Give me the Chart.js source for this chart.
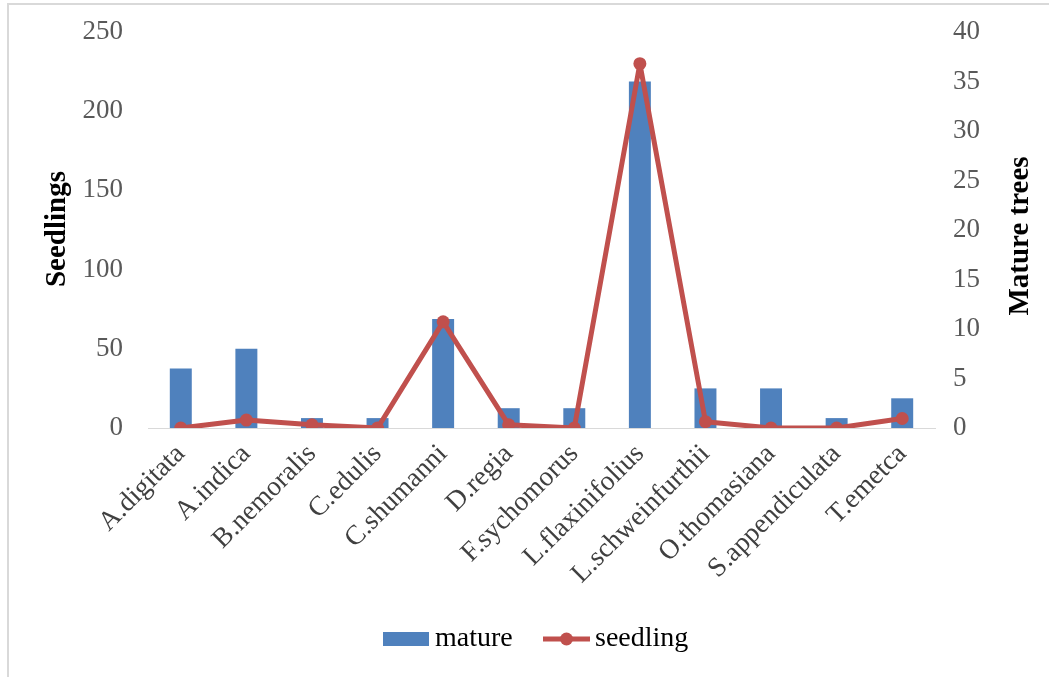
<!DOCTYPE html>
<html>
<head>
<meta charset="utf-8">
<title>Seedlings and mature trees by species</title>
<script src="https://cdn.jsdelivr.net/npm/chart.js@4.4.1/dist/chart.umd.min.js"></script>
<style>
  html, body { margin: 0; padding: 0; background: #ffffff; }
  canvas { display: block; }
</style>
</head>
<body>
<canvas id="chart" width="1049" height="677"></canvas>
<script>
// Species along the x axis
const species = [
  'A.digitata', 'A.indica', 'B.nemoralis', 'C.edulis', 'C.shumanni', 'D.regia',
  'F.sychomorus', 'L.flaxinifolius', 'L.schweinfurthii', 'O.thomasiana',
  'S.appendiculata', 'T.emetca'
];
// Mature tree counts (right axis)
const mature = [6, 8, 1, 1, 11, 2, 2, 35, 4, 4, 1, 3];
// Seedling counts (left axis)
const seedling = [0, 5, 2, 0, 67, 2, 0, 230, 4, 0, 0, 6];
// Tick values for both value axes
const seedlingTicks = [0, 50, 100, 150, 200, 250];
const matureTicks = [0, 5, 10, 15, 20, 25, 30, 35, 40];

const BLUE = '#4F81BD';
const RED = '#C0504D';
const SERIF = '"Liberation Serif", "Times New Roman", serif';

// Frame, rotated axis titles and the legend row
const decorations = {
  id: 'decorations',
  beforeDraw(chart) {
    const ctx = chart.ctx;
    ctx.save();
    ctx.fillStyle = '#ffffff';
    ctx.fillRect(0, 0, chart.width, chart.height);
    ctx.strokeStyle = '#d9d9d9';
    ctx.lineWidth = 2;
    ctx.beginPath();
    ctx.moveTo(8, chart.height);
    ctx.lineTo(8, 4);
    ctx.lineTo(chart.width, 4);
    ctx.stroke();
    ctx.restore();
  },
  afterDraw(chart) {
    const ctx = chart.ctx;
    ctx.save();
    ctx.fillStyle = '#000000';
    ctx.textAlign = 'center';
    ctx.textBaseline = 'middle';
    ctx.font = 'bold 29px ' + SERIF;
    ctx.translate(58, 229);
    ctx.rotate(-Math.PI / 2);
    ctx.fillText('Seedlings', 0, 0);
    ctx.restore();

    ctx.save();
    ctx.fillStyle = '#000000';
    ctx.textAlign = 'center';
    ctx.textBaseline = 'middle';
    ctx.font = 'bold 29px ' + SERIF;
    ctx.translate(1021, 236);
    ctx.rotate(-Math.PI / 2);
    ctx.fillText('Mature trees', 0, 0);
    ctx.restore();

    // legend
    const ly = 639;
    ctx.save();
    ctx.fillStyle = BLUE;
    ctx.fillRect(383, ly - 7, 46, 14);
    ctx.strokeStyle = RED;
    ctx.lineWidth = 5;
    ctx.beginPath();
    ctx.moveTo(543, ly);
    ctx.lineTo(590, ly);
    ctx.stroke();
    ctx.fillStyle = RED;
    ctx.beginPath();
    ctx.arc(566.5, ly, 6.5, 0, Math.PI * 2);
    ctx.fill();
    ctx.fillStyle = '#000000';
    ctx.font = '28px ' + SERIF;
    ctx.textAlign = 'left';
    ctx.textBaseline = 'middle';
    ctx.fillText('mature', 435, ly);
    ctx.fillText('seedling', 595, ly);
    ctx.restore();
  }
};

new Chart(document.getElementById('chart'), {
  data: {
    labels: species,
    datasets: [
      {
        type: 'line',
        label: 'seedling',
        data: seedling,
        yAxisID: 'y',
        borderColor: RED,
        backgroundColor: RED,
        borderWidth: 5,
        borderJoinStyle: 'round',
        borderCapStyle: 'round',
        pointRadius: 6.5,
        pointBackgroundColor: RED,
        pointBorderWidth: 0,
        tension: 0,
        order: 0
      },
      {
        type: 'bar',
        label: 'mature',
        data: mature,
        yAxisID: 'y1',
        backgroundColor: BLUE,
        borderWidth: 0,
        barPercentage: 0.335,
        categoryPercentage: 1,
        order: 1
      }
    ]
  },
  options: {
    responsive: false,
    animation: false,
    layout: { padding: { top: 32, left: 0, right: 0, bottom: 0 } },
    plugins: {
      legend: { display: false },
      tooltip: { enabled: false },
      title: { display: false }
    },
    scales: {
      x: {
        offset: true,
        grid: { display: false, drawTicks: false },
        border: { display: true, color: '#d9d9d9', width: 1 },
        ticks: {
          autoSkip: false,
          maxRotation: 45,
          minRotation: 45,
          padding: 10,
          color: '#404040',
          font: { family: SERIF, size: 27.5 }
        },
        afterFit(scale) { scale.height = 249; }
      },
      y: {
        position: 'left',
        min: 0,
        max: 250,
        afterBuildTicks(scale) { scale.ticks = seedlingTicks.map(v => ({ value: v })); },
        grid: { display: false, drawTicks: false },
        border: { display: false },
        ticks: {
          padding: 25,
          color: '#595959',
          font: { family: SERIF, size: 27 }
        },
        afterFit(scale) {
          scale.width = 148;
          scale.paddingTop = 0;
          scale.paddingBottom = 0;
        }
      },
      y1: {
        position: 'right',
        min: 0,
        max: 40,
        afterBuildTicks(scale) { scale.ticks = matureTicks.map(v => ({ value: v })); },
        grid: { display: false, drawTicks: false },
        border: { display: false },
        ticks: {
          padding: 18,
          color: '#595959',
          font: { family: SERIF, size: 27 }
        },
        afterFit(scale) {
          scale.width = 114;
          scale.paddingTop = 0;
          scale.paddingBottom = 0;
        }
      }
    }
  },
  plugins: [decorations]
});
</script>
</body>
</html>
